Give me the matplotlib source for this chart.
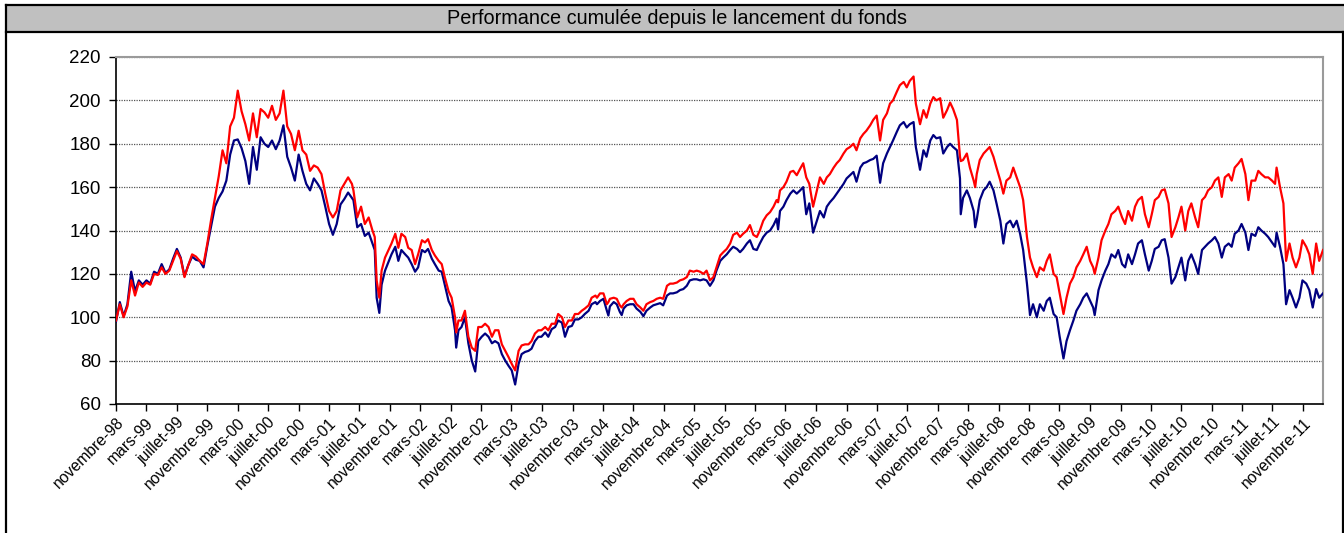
import numpy as np
import pandas as pd
import matplotlib
matplotlib.use('Agg')
import matplotlib.pyplot as plt
from matplotlib.lines import Line2D
from matplotlib.patches import Rectangle

plt.rcParams['font.family'] = ['Liberation Sans', 'DejaVu Sans']

# -------------------------------
# Data
# mois = months since fund launch (1 Nov 1998)
# -------------------------------
lancement = pd.Timestamp('1998-11-01')
fin_mois = 158.6

mois = [
    0, 0.5, 1, 1.5, 2, 2.5, 3, 3.5, 4, 4.5, 5, 5.5, 6, 6.5, 7, 7.5, 8, 8.5, 9, 9.5,
    10, 10.5, 11, 11.5, 12, 12.5, 13, 13.5, 14, 14.5, 15, 15.5, 16, 16.5, 17, 17.5,
    18, 18.5, 19, 19.5, 20, 20.5, 21, 21.5, 22, 22.5, 23, 23.5, 24, 24.5, 25, 25.5,
    26, 26.5, 27, 27.5, 28, 28.5, 29, 29.5, 30, 30.5, 31,
    31.2, 31.7, 32.2, 32.7, 33.2, 33.7, 34.0, 34.25, 34.6, 34.9, 35.35, 35.8, 36.2,
    36.7, 37.1, 37.5, 38.0, 38.4, 38.85, 39.3, 39.7, 40.2, 40.6, 41.0, 41.5, 41.9,
    42.4, 42.8, 43.2, 43.7, 44.1, 44.55, 44.7, 45.0, 45.4, 45.85, 46.3, 46.75, 47.2,
    47.6, 48.05, 48.5, 48.95, 49.4, 49.8, 50.25, 50.7, 51.15, 51.6, 52.0, 52.45, 52.9,
    53.3, 53.75, 54.2, 54.6, 55.05, 55.5, 55.9, 56.4, 56.8, 57.25, 57.7, 58.1, 58.6,
    59.0, 59.45, 59.9, 60.3, 60.75, 61.2, 61.6, 62.1, 62.5, 63.0,
    63.2, 63.6, 64.05, 64.5, 64.7, 64.9, 65.4, 65.8, 66.2, 66.45, 66.7, 67.1, 67.55,
    68.0, 68.4, 68.9, 69.3, 69.7, 70.2, 70.6, 71.05, 71.5, 71.9, 72.4, 72.8, 73.2,
    73.7, 74.1, 74.55, 75.0, 75.4, 75.9, 76.3, 76.75, 77.2, 77.6, 78.05, 78.5, 78.9,
    79.4, 79.8, 80.25, 80.7, 81.1, 81.6, 82.0, 82.4, 82.9, 83.3, 83.75, 84.2, 84.6,
    85.05, 85.5, 85.95, 86.4, 86.8, 87.0, 87.25, 87.7, 88.1, 88.6, 89.0, 89.45, 89.9,
    90.3, 90.7, 91.1, 91.6, 92.1, 92.5, 93.0, 93.4, 93.8,
    94.3, 94.7, 95.1, 95.6, 96.0, 96.45, 96.9, 97.3, 97.8, 98.2, 98.6, 99.1, 99.5,
    99.95, 100.4, 100.8, 101.3, 101.7, 102.1, 102.6, 103.0, 103.5, 103.9, 104.3, 104.8,
    105.1, 105.65, 106.1, 106.5, 107.0, 107.4, 107.8, 108.3, 108.7, 109.2, 109.6, 110.0,
    110.5, 110.9, 111.0, 111.3, 111.8, 112.2, 112.7, 112.9, 113.1, 113.5, 114.0, 114.4,
    114.8, 115.3, 115.7, 116.2, 116.6, 117.0, 117.5, 117.9, 118.35, 118.8, 119.2, 119.7,
    120.1, 120.5, 121.0, 121.4, 121.9, 122.3, 122.7, 123.2, 123.6, 124.0, 124.5, 124.9,
    125.35,
    125.8, 126.2, 126.7, 127.1, 127.55, 128.0, 128.4, 128.6, 129.1, 129.5, 130.0, 130.4,
    130.8, 131.3, 131.7, 132.2, 132.6, 133.0, 133.5, 133.9, 134.3, 134.8, 135.2, 135.7,
    136.1, 136.5, 137.0, 137.4, 137.8, 138.3, 138.7, 139.2, 139.6, 140.0, 140.5, 140.9,
    141.3, 141.8, 142.2, 142.7, 143.1, 143.5, 144.0, 144.4, 144.85, 145.3, 145.7, 146.2,
    146.6, 147.0, 147.5, 147.9, 148.4, 148.8, 149.2, 149.7, 150.1, 150.5, 151.0, 151.4,
    151.9, 152.3, 152.5, 152.95, 153.4, 153.75, 154.2, 154.6, 155.05, 155.5, 155.9, 156.4,
    156.8, 157.25, 157.7, 158.1, 158.6,
]

# red line
fonds = [
    98.5, 106, 100, 105, 117, 110, 116, 114, 116, 115, 120, 119.5, 123, 120, 121.5, 126, 130.5, 127, 118.5, 124,
    129, 128, 126, 124.5, 134, 145, 155, 165, 177, 171, 188, 192, 204.5, 195, 189, 181.5,
    194, 183, 196, 194.5, 192, 197.5, 191, 194, 204.5, 188, 184.5, 177, 186, 177, 175, 167.5,
    170, 169, 166, 157, 149, 146, 149, 158.5, 161.5, 164.5, 161.5,
    158.5, 146, 151, 143, 146, 140, 137, 117, 109, 121.5, 127.5, 131, 134,
    138.5, 132, 138.5, 137, 132, 131, 124.5, 129, 135.5, 134.5, 136, 131, 128.5,
    126, 124.5, 118.5, 112, 109, 100, 93, 98.5, 98.5, 103, 91, 86, 84.5,
    95.5, 95.5, 97, 95.5, 91, 94, 94, 87.5, 84.5, 81.5, 78.5, 75.5, 84.5,
    87, 87.5, 87.5, 89, 92.5, 94, 94, 95.5, 94, 97, 97, 101.5, 100,
    95.5, 98.5, 98.5, 101.5, 101.5, 103, 104, 105.5, 109, 110,
    109, 111, 111, 106, 107, 108.5, 109, 108.5, 105.5, 104.5, 106, 107.5, 108.5,
    108.5, 106, 104.5, 103, 106, 107, 107.5, 108.5, 109, 108.5, 114.5, 115.5, 115.5,
    116, 117, 117.5, 118.5, 121.5, 121, 121.5, 121, 120, 121.5, 117, 118.5, 123,
    128.5, 130, 131.5, 134, 138, 139, 137, 138.5, 140, 142.5, 138, 137, 140,
    144.5, 147, 148.5, 151, 154, 153, 158.5, 160, 162.5, 167, 167.5, 165.5, 168.5,
    171, 164.5, 161.5, 151, 158.5, 164.5, 161.5, 164.5, 166,
    169, 171, 172.5, 175.5, 177.5, 178.5, 180, 177, 182.5, 184.5, 186, 188.5, 191,
    193, 181.5, 191, 194, 198.5, 200, 204, 207, 208.5, 206, 209, 211,
    198.5, 189, 195.5, 192, 198.5, 201.5, 200, 201, 192, 195.5, 199, 196,
    191, 174, 172, 172.5, 175.5, 169, 163, 160, 166, 172.5, 175.5, 177,
    178.5, 174, 169, 163, 157, 163, 164.5, 169, 164.5, 160, 154, 137,
    127.5, 123, 118.5, 123, 121.5, 126, 129, 120, 118.5, 111, 101.5, 109,
    115.5,
    118.5, 123, 126, 129, 132.5, 126, 123, 120, 127.5, 135.5, 140, 143,
    147.5, 149, 151, 146, 143, 149, 144.5, 151, 154, 155.5, 147.5, 141.5,
    147.5, 154, 155.5, 158.5, 159, 152.5, 137, 141.5, 146, 151, 140, 149,
    152.5, 146, 141.5, 154, 155.5, 158.5, 160, 163, 164.5, 155.5, 164.5, 166,
    163, 169, 171, 173, 166, 154, 163, 163, 167.5, 166, 164.5, 164.5,
    163, 161.5, 169, 160, 152.5, 126, 134, 127.5, 123, 127.5, 135.5, 132.5,
    129, 120, 134, 126, 131,
]

# navy line
indice = [
    98, 107, 100.5, 106, 121, 112, 117, 115, 117, 115.5, 121, 120, 124.5, 120.5, 122, 127, 131.5, 127.5, 119, 124,
    128, 126.5, 126, 123, 133, 142, 151, 155, 158, 163, 175, 181.5, 182, 178, 172, 161.5,
    178.5, 168, 183, 180, 178.5, 181.5, 177.5, 181.5, 188.5, 174, 169, 163, 175, 167.5, 161.5, 158.5,
    164, 161.5, 158.5, 151, 143, 138, 143, 152, 154.5, 157.5, 155,
    154, 141.5, 143, 137.5, 139, 134, 131, 109, 102, 115, 121.5, 125.5, 129,
    132.5, 126, 131, 129, 127.5, 124.5, 121, 123, 131, 130, 131.5, 127, 124.5,
    121.5, 121, 115, 107.5, 104.5, 94, 86, 94, 95.5, 100, 88, 80, 75,
    89, 91, 92.5, 91, 88, 89, 88, 83, 80, 77.5, 75.5, 69, 78.5,
    83, 84, 84.5, 85.5, 89, 91, 91, 93, 91, 94.5, 95.5, 98.5, 97.5,
    91, 95.5, 96, 99, 99, 100, 101.5, 103, 106, 107,
    106, 107.5, 108.5, 103, 100.8, 105, 107, 106, 102.5, 101, 104, 105.5, 106,
    106, 104, 102.5, 100.5, 103, 104.5, 105.5, 106, 106.5, 105.5, 110, 111, 111,
    111.5, 112.5, 113, 114.5, 117, 117.5, 117.5, 117, 117.5, 117, 114.5, 117, 121.5,
    126, 127.5, 129, 131, 132.5, 131.5, 130, 131.5, 134, 135.5, 131.5, 131, 134,
    137, 139, 140, 142.5, 145.5, 140.5, 149, 151, 154, 157, 158.5, 157, 158.5,
    160, 147.5, 152.5, 139, 144.5, 149, 146, 151, 153,
    155, 157, 159, 161.5, 164, 165.5, 167, 162.5, 169, 171, 171.5, 172.5, 173,
    174.5, 162, 171, 175.5, 178.5, 181.5, 185.5, 188.5, 190, 187.5, 189, 190,
    178.5, 168, 177, 174, 181.5, 184, 182.5, 183, 175.5, 178.5, 180, 178.5,
    177, 164, 147.5, 155, 158.5, 155, 149, 141.5, 145, 154, 158.5, 160,
    162.5, 158.5, 152.5, 144.5, 134, 143, 144.5, 141.5, 144.5, 138.5, 131, 115.5,
    101, 106, 100, 106, 103, 107.5, 109, 101.5, 100, 91, 81, 89,
    94,
    98.5, 103, 106, 109, 111, 107.5, 104.5, 101, 112.5, 117, 121.5, 124.5,
    129, 127.5, 131, 124.5, 123, 129, 124.5, 129, 134, 135.5, 129, 121.5,
    126, 131.5, 132.5, 135.5, 136, 127.5, 115.5, 118.5, 123, 127.5, 117, 126,
    129, 124.5, 120, 131, 132.5, 134, 135.5, 137, 134, 127.5, 132.5, 134,
    132.5, 138.5, 140, 143, 139, 131, 138.5, 137.5, 141.5, 140, 138.5, 137,
    134.5, 132.5, 139, 132.5, 124.5, 106, 112.5, 109, 104.5, 109, 117, 115.5,
    112.5, 104.5, 113, 109, 111,
]

# x ticks every 4 months, French month names
noms_mois = {3: 'mars', 7: 'juillet', 11: 'novembre'}
ticks = pd.date_range('1998-11-01', '2011-11-01', freq='4MS')
tick_labels = [f"{noms_mois[d.month]}-{d.year % 100:02d}" for d in ticks]

titre = 'Performance cumulée depuis le lancement du fonds'

# -------------------------------
# Figure
# -------------------------------
W, H = 1344, 533
fig = plt.figure(figsize=(W / 100, H / 100), dpi=100)

# title bar + outer frame (figure pixel coords -> fraction)
fig.patches.append(Rectangle((6 / W, 1 - 32 / H), 1 - 6 / W, 28 / H, transform=fig.transFigure,
                             facecolor='#C0C0C0', edgecolor='none', zorder=0))
frame = dict(color='black', linewidth=1.6, transform=fig.transFigure, solid_capstyle='projecting')
fig.add_artist(Line2D([6 / W, 1], [1 - 4.5 / H, 1 - 4.5 / H], **frame))
fig.add_artist(Line2D([6 / W, 1], [1 - 32 / H, 1 - 32 / H], **frame))
fig.add_artist(Line2D([6 / W, 6 / W], [1 - 4.5 / H, 0], **frame))
fig.add_artist(Line2D([1342.5 / W, 1342.5 / W], [1 - 32 / H, 0], **frame))
fig.text(677 / W, 1 - 18.5 / H, titre, ha='center', va='center', fontsize=14.3)

ax = fig.add_axes([116 / W, 1 - 404 / H, (1323 - 116) / W, (404 - 57) / H])

dates = lancement + pd.to_timedelta(np.array(mois) * 30.4375, unit='D')
ax.plot(dates, indice, color='#000080', linewidth=1.6, zorder=3)
ax.plot(dates, fonds, color='#FF0000', linewidth=1.6, zorder=4)

ax.set_xlim(lancement, lancement + pd.Timedelta(days=fin_mois * 30.4375))
ax.set_ylim(60, 220)
ax.set_yticks(range(60, 221, 20))
ax.set_xticks(ticks)
ax.set_xticklabels(tick_labels, rotation=45, ha='right', rotation_mode='anchor')

ax.yaxis.grid(True, color='#555555', linestyle=(0, (1, 1)), linewidth=0.9)
ax.set_axisbelow(True)
ax.tick_params(axis='y', direction='out', length=5, width=1, labelsize=13.5, pad=6)
ax.tick_params(axis='x', direction='out', length=5, width=1, labelsize=11.3, pad=3)

for side in ['left', 'bottom']:
    ax.spines[side].set_color('black')
    ax.spines[side].set_linewidth(1.2)
for side in ['top', 'right']:
    ax.spines[side].set_color('#9a9a9a')
    ax.spines[side].set_linewidth(1.5)

plt.savefig('out.png', dpi=100)
